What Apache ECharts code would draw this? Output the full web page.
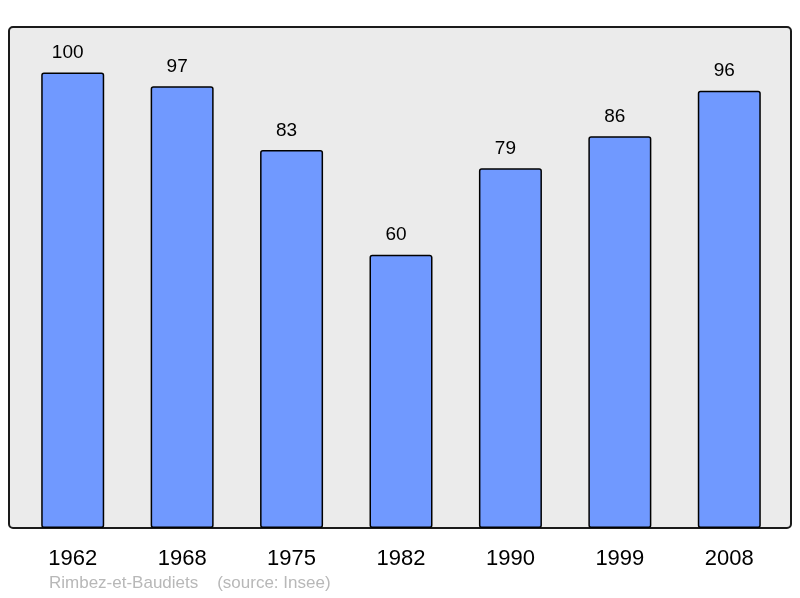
<!DOCTYPE html>
<html>
<head>
<meta charset="utf-8">
<script src="https://cdn.jsdelivr.net/npm/echarts@6/dist/echarts.min.js"></script>
<style>html,body{margin:0;padding:0;background:#fff;}#c{width:800px;height:598px;}</style>
</head>
<body>
<div id="c"></div>
<script>
const years = ['1962', '1968', '1975', '1982', '1990', '1999', '2008'];
const population = [100, 97, 83, 60, 79, 86, 96];
const footer = 'Rimbez-et-Baudiets    (source: Insee)';

const chart = echarts.init(document.getElementById('c'), null, {renderer: 'canvas'});
chart.setOption({
  animation: false,
  backgroundColor: '#ffffff',
  textStyle: {fontFamily: 'Liberation Sans, Arial, sans-serif'},
  grid: {left: 18, right: 16, top: 27, bottom: 70, containLabel: false},
  graphic: [
    {type: 'rect', z: 0, shape: {x: 9, y: 27, width: 782, height: 501, r: 4},
     style: {fill: '#ebebeb', stroke: '#1a1a1a', lineWidth: 2}},
    {type: 'text', z: 10, left: 49, top: 575,
     style: {text: footer, fill: '#b8b8b8', font: '17px "Liberation Sans", Arial, sans-serif'}}
  ],
  xAxis: {
    type: 'category', data: years,
    axisLine: {show: false}, axisTick: {show: false},
    axisLabel: {color: '#000', fontSize: 22, margin: 20, fontFamily: 'Liberation Sans'}
  },
  yAxis: {
    type: 'value', min: 0, max: 110, show: false,
    splitLine: {show: false}
  },
  series: [{
    type: 'bar', data: population, barWidth: 63, z: 5,
    itemStyle: {color: '#7099ff', borderColor: '#000', borderWidth: 1.5, borderRadius: 2},
    label: {show: true, position: 'top', distance: 10, offset: [-5, 0], color: '#000', fontSize: 19, fontFamily: 'Liberation Sans'}
  }]
});
</script>
</body>
</html>
